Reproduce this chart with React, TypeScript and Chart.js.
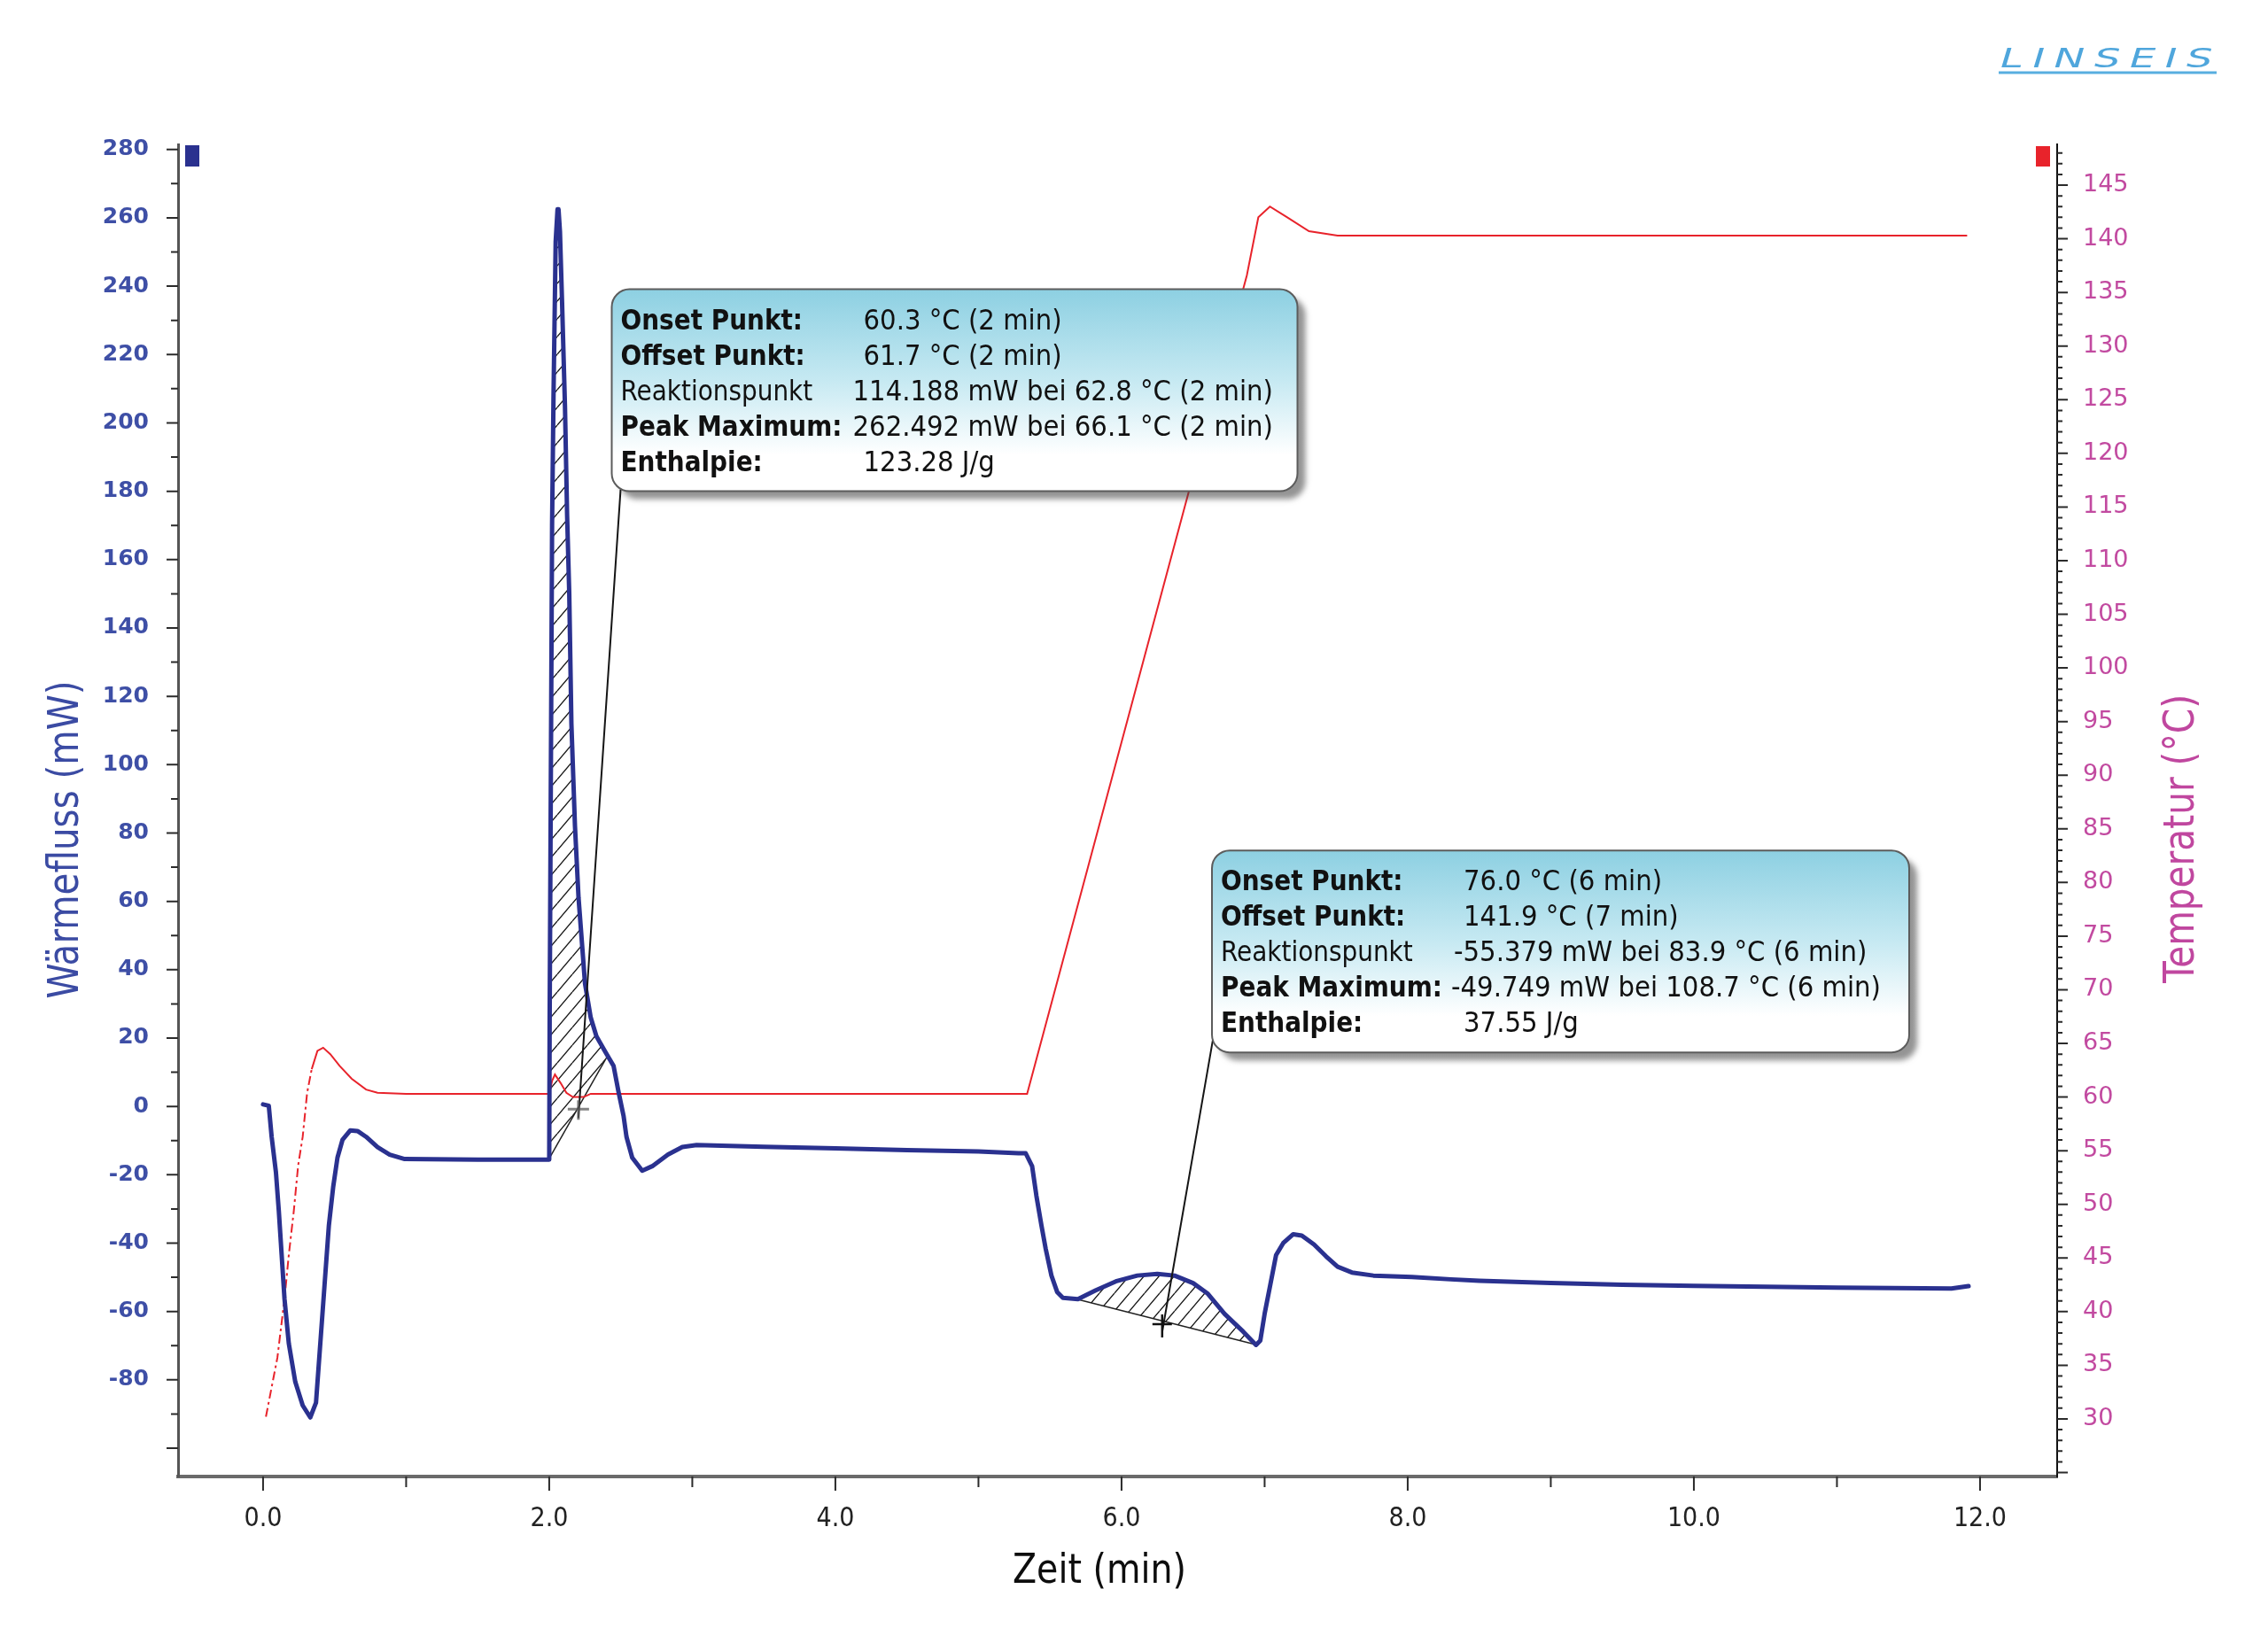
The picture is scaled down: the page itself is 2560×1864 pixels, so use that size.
import React, { useEffect, useRef } from 'react';
import { Chart, registerables } from 'chart.js';

Chart.register(...registerables);

const CANVAS_W = 2560;
const CANVAS_H = 1864;

// ---------------- data ----------------
// Heat flow (mW) over time (min)
const flowTime = [0.0, 0.04, 0.06, 0.09, 0.11, 0.13, 0.15, 0.18, 0.225, 0.277, 0.33, 0.37, 0.40, 0.43, 0.46, 0.49, 0.52, 0.555, 0.61, 0.66, 0.72, 0.80, 0.885, 0.99, 1.5, 2.0, 2.003, 2.02, 2.03, 2.045, 2.058, 2.065, 2.075, 2.09, 2.11, 2.125, 2.14, 2.155, 2.18, 2.205, 2.25, 2.29, 2.33, 2.39, 2.45, 2.485, 2.52, 2.54, 2.58, 2.65, 2.72, 2.83, 2.93, 3.03, 3.5, 4.0, 4.5, 5.0, 5.28, 5.33, 5.375, 5.405, 5.44, 5.47, 5.51, 5.55, 5.59, 5.695, 5.82, 5.96, 6.11, 6.25, 6.37, 6.5, 6.6, 6.72, 6.85, 6.94, 6.97, 7.0, 7.04, 7.08, 7.13, 7.2, 7.26, 7.345, 7.43, 7.51, 7.61, 7.76, 8.03, 8.3, 8.5, 9.0, 9.5, 10.0, 11.0, 11.8, 11.92];
const flowValue = [0.6, 0.2, -8.9, -19.3, -30.5, -43.5, -56.4, -69.4, -80.6, -87.5, -91, -86.7, -69.4, -52.1, -34.8, -23.6, -15, -9.8, -7, -7.2, -8.9, -11.9, -14.1, -15.4, -15.6, -15.6, 25, 170, 208, 253, 262.5, 262.5, 256, 235, 205, 173, 150, 112, 82, 61, 36, 26, 20.5, 16.1, 11.8, 4.1, -2.9, -8.9, -15, -18.8, -17.5, -14.1, -11.9, -11.3, -11.8, -12.3, -12.8, -13.2, -13.7, -13.7, -17.5, -26.2, -34.8, -41.7, -49.5, -54.3, -56, -56.4, -53.8, -51.2, -49.5, -49.0, -49.5, -51.7, -54.7, -60.7, -65.9, -69.8, -68.5, -60.7, -52.1, -43.5, -40, -37.4, -37.8, -40.4, -43.9, -46.9, -48.6, -49.5, -49.9, -50.6, -51, -51.7, -52.2, -52.5, -53.0, -53.3, -52.6];

// Temperature (°C) over time (min)
const tempTime = [0.02, 0.10, 0.15, 0.18, 0.215, 0.245, 0.277, 0.308, 0.34, 0.38, 0.42, 0.47, 0.535, 0.62, 0.72, 0.80, 1.0, 2.0, 2.02, 2.04, 2.08, 2.12, 2.165, 2.24, 2.29, 5.34, 6.876, 6.956, 7.037, 7.158, 7.31, 7.51, 11.91];
const tempValue = [30.2, 35.7, 41.2, 45.3, 49.4, 53.6, 56.3, 60.4, 62.6, 64.3, 64.6, 64.0, 62.9, 61.7, 60.7, 60.4, 60.3, 60.3, 61.5, 62.1, 61.3, 60.4, 60.0, 60.0, 60.3, 60.3, 136.6, 142.0, 143.0, 142.0, 140.7, 140.3, 140.3];
const tempDashedUntil = 0.36; // first part of the temperature trace is dash-dotted

// Tick labels
const xTickValues = [0, 2, 4, 6, 8, 10, 12];
const flowTickValues = [-80, -60, -40, -20, 0, 20, 40, 60, 80, 100, 120, 140, 160, 180, 200, 220, 240, 260, 280];
const tempTickValues = [30, 35, 40, 45, 50, 55, 60, 65, 70, 75, 80, 85, 90, 95, 100, 105, 110, 115, 120, 125, 130, 135, 140, 145];

// Axis ranges
const X_MIN = -0.594, X_MAX = 12.539;
const FLOW_MIN = -108.3, FLOW_MAX = 281.5;
const TEMP_MIN = 24.63, TEMP_MAX = 148.8;

// Peak integration areas (time range on the curve, baseline end points)
const peak1Range = [2.0, 2.41];
const peak1Baseline = [{ x: 2.003, y: -15 }, { x: 2.41, y: 15 }];
const peak2Range = [5.695, 6.94];
const peak2Baseline = [{ x: 5.705, y: -56.6 }, { x: 6.93, y: -69.6 }];

// Annotation boxes
const box1Anchor = { x: 2.437, y: 239.1 };
const box1Target = { x: 2.204, y: -3.4 };
const box1Marker = { x: 2.204, y: -0.8 };
const box1Lines = [
  { label: 'Onset Punkt:', value: '60.3 °C (2 min)', bold: true, col: 284 },
  { label: 'Offset Punkt:', value: '61.7 °C (2 min)', bold: true, col: 284 },
  { label: 'Reaktionspunkt', value: '114.188 mW bei 62.8 °C (2 min)', bold: false, col: 272 },
  { label: 'Peak Maximum:', value: '262.492 mW bei 66.1 °C (2 min)', bold: true, col: 272 },
  { label: 'Enthalpie:', value: '123.28 J/g', bold: true, col: 284 },
];
const box2Anchor = { x: 6.632, y: 74.9 };
const box2Target = { x: 6.285, y: -65.8 };
const box2Marker = { x: 6.284, y: -63.7 };
const box2Lines = [
  { label: 'Onset Punkt:', value: '76.0 °C (6 min)', bold: true, col: 284 },
  { label: 'Offset Punkt:', value: '141.9 °C (7 min)', bold: true, col: 284 },
  { label: 'Reaktionspunkt', value: '-55.379 mW bei 83.9 °C (6 min)', bold: false, col: 273 },
  { label: 'Peak Maximum:', value: '-49.749 mW bei 108.7 °C (6 min)', bold: true, col: 270 },
  { label: 'Enthalpie:', value: '37.55 J/g', bold: true, col: 284 },
];

const FLOW_TITLE = 'Wärmefluss (mW)';
const TEMP_TITLE = 'Temperatur (°C)';
const TIME_TITLE = 'Zeit (min)';
const LOGO = 'LINSEIS';

// ---------------- colours / styles ----------------
const BLUE = '#2A318F';
const RED = '#E8232B';
const FLOW_LABEL = '#3E4FA6';
const TEMP_LABEL = '#C24AA0';
const BOX_FONT = "'DejaVu Sans Condensed', 'DejaVu Sans', sans-serif";

function makeHatch(): CanvasPattern | string {
  const c = document.createElement('canvas');
  const w = 17, h = 20;
  c.width = w; c.height = h;
  const g = c.getContext('2d');
  if (!g) return 'rgba(0,0,0,0.3)';
  g.strokeStyle = '#1a1a1a';
  g.lineWidth = 1.4;
  g.beginPath();
  g.moveTo(0, h); g.lineTo(w, 0);
  g.moveTo(-w, h); g.lineTo(0, 0);
  g.moveTo(w, h); g.lineTo(2 * w, 0);
  g.stroke();
  return g.createPattern(c, 'repeat') || 'rgba(0,0,0,0.3)';
}

function drawSqueezed(ctx: CanvasRenderingContext2D, text: string, cx: number, cy: number, font: string, color: string, targetLen: number, rot: number) {
  ctx.save();
  ctx.font = font;
  ctx.fillStyle = color;
  ctx.textAlign = 'center';
  ctx.textBaseline = 'middle';
  const w = ctx.measureText(text).width;
  ctx.translate(cx, cy);
  ctx.rotate(rot);
  ctx.scale(targetLen / w, 1);
  ctx.fillText(text, 0, 0);
  ctx.restore();
}

function drawBox(ctx: CanvasRenderingContext2D, x: number, y: number, w: number, h: number, lines: any[], fs: number) {
  ctx.save();
  ctx.shadowColor = 'rgba(60,60,60,0.55)';
  ctx.shadowBlur = 6;
  ctx.shadowOffsetX = 9;
  ctx.shadowOffsetY = 9;
  const g = ctx.createLinearGradient(0, y, 0, y + h);
  g.addColorStop(0, '#8DD0E2');
  g.addColorStop(0.45, '#C6E9F2');
  g.addColorStop(0.82, '#FFFFFF');
  g.addColorStop(1, '#FFFFFF');
  ctx.fillStyle = g;
  ctx.beginPath();
  ctx.roundRect(x, y, w, h, 20);
  ctx.fill();
  ctx.restore();
  ctx.save();
  ctx.strokeStyle = '#5c5c5c';
  ctx.lineWidth = 2;
  ctx.beginPath();
  ctx.roundRect(x, y, w, h, 20);
  ctx.stroke();
  ctx.fillStyle = '#111';
  ctx.textBaseline = 'alphabetic';
  ctx.textAlign = 'left';
  lines.forEach((ln, i) => {
    const by = y + 45 + i * 40;
    ctx.font = `${ln.bold ? 'bold ' : ''}${fs}px ${BOX_FONT}`;
    ctx.fillText(ln.label, x + 10, by);
    ctx.font = `${(fs + 0.8).toFixed(1)}px ${BOX_FONT}`;
    ctx.save();
    ctx.translate(x + ln.col, by);
    ctx.scale(1.02, 1);
    ctx.fillText(ln.value, 0, 0);
    ctx.restore();
  });
  ctx.restore();
}

const decorPlugin = {
  id: 'dscDecor',
  afterDraw(chart: any) {
    const { ctx, chartArea: a, scales } = chart;
    const sx = scales.x, sy = scales.y, st = scales.y1;
    ctx.save();

    // tick marks
    ctx.strokeStyle = '#2b2b2b';
    ctx.lineWidth = 2;
    ctx.beginPath();
    for (let v = -100; v <= 280; v += 10) {
      const y = sy.getPixelForValue(v);
      const len = v % 20 === 0 ? 12 : 7;
      ctx.moveTo(a.left - len - 1, y); ctx.lineTo(a.left, y);
    }
    for (let v = 25; v <= 148; v++) {
      const y = st.getPixelForValue(v);
      const len = v % 5 === 0 ? 12 : 6;
      ctx.moveTo(a.right, y); ctx.lineTo(a.right + len, y);
    }
    for (let v = 0; v <= 12; v++) {
      const x = sx.getPixelForValue(v);
      const len = v % 2 === 0 ? 16 : 12;
      ctx.moveTo(x, a.bottom); ctx.lineTo(x, a.bottom + len);
    }
    ctx.stroke();

    // series markers
    ctx.fillStyle = BLUE;
    ctx.fillRect(a.left + 8, a.top + 1, 16, 24);
    ctx.fillStyle = RED;
    ctx.fillRect(a.right - 24, a.top + 2, 16, 23);

    // box geometry
    const b1x = sx.getPixelForValue(box1Anchor.x), b1y = sy.getPixelForValue(box1Anchor.y);
    const b2x = sx.getPixelForValue(box2Anchor.x), b2y = sy.getPixelForValue(box2Anchor.y);
    const bw1 = 774, bw2 = 787, bh = 228;

    // leader lines
    ctx.strokeStyle = '#151515';
    ctx.lineWidth = 2;
    ctx.beginPath();
    ctx.moveTo(b1x + 10, b1y + bh - 2);
    ctx.lineTo(sx.getPixelForValue(box1Target.x), sy.getPixelForValue(box1Target.y));
    ctx.moveTo(b2x + 1, b2y + bh - 14);
    ctx.lineTo(sx.getPixelForValue(box2Target.x), sy.getPixelForValue(box2Target.y));
    ctx.stroke();

    // reaction point markers
    const m1x = sx.getPixelForValue(box1Marker.x), m1y = sy.getPixelForValue(box1Marker.y);
    ctx.strokeStyle = 'rgba(90,90,90,0.75)';
    ctx.lineWidth = 3;
    ctx.beginPath();
    ctx.moveTo(m1x - 12, m1y); ctx.lineTo(m1x + 12, m1y);
    ctx.moveTo(m1x, m1y - 10); ctx.lineTo(m1x, m1y + 12);
    ctx.stroke();
    const m2x = sx.getPixelForValue(box2Marker.x), m2y = sy.getPixelForValue(box2Marker.y);
    ctx.strokeStyle = '#111';
    ctx.lineWidth = 2.5;
    ctx.beginPath();
    ctx.moveTo(m2x - 11, m2y); ctx.lineTo(m2x + 11, m2y);
    ctx.moveTo(m2x, m2y - 11); ctx.lineTo(m2x, m2y + 15);
    ctx.stroke();

    // annotation boxes; font fitted so that the bold label has the reference width
    ctx.font = `bold 30px ${BOX_FONT}`;
    const fs = Math.min(34, 30 * 250 / ctx.measureText('Peak Maximum:').width);
    drawBox(ctx, b1x, b1y, bw1, bh, box1Lines, fs);
    drawBox(ctx, b2x, b2y, bw2, bh, box2Lines, fs);

    // axis titles
    drawSqueezed(ctx, FLOW_TITLE, 76, 948, "48px 'DejaVu Sans Condensed', 'DejaVu Sans', sans-serif", '#3B4BA3', 359, -Math.PI / 2);
    drawSqueezed(ctx, TEMP_TITLE, 2464, 947, "48px 'DejaVu Sans Condensed', 'DejaVu Sans', sans-serif", '#C0479F', 326, -Math.PI / 2);
    drawSqueezed(ctx, TIME_TITLE, 1241, 1775, "46px 'DejaVu Sans Condensed', 'DejaVu Sans', sans-serif", '#0d0d0d', 196, 0);

    // logo
    ctx.save();
    ctx.font = "italic 31px 'DejaVu Sans', sans-serif";
    (ctx as any).letterSpacing = '7px';
    ctx.fillStyle = '#4FA6DC';
    ctx.textBaseline = 'alphabetic';
    ctx.textAlign = 'left';
    const lw = ctx.measureText(LOGO).width;
    ctx.translate(2258, 76);
    ctx.scale(250 / lw, 1);
    ctx.fillText(LOGO, 0, 0);
    ctx.restore();
    ctx.strokeStyle = '#58AEE0';
    ctx.lineWidth = 3;
    ctx.beginPath();
    ctx.moveTo(2256, 82); ctx.lineTo(2502, 82);
    ctx.stroke();

    ctx.restore();
  },
};

export default function App() {
  const ref = useRef<HTMLCanvasElement>(null);
  useEffect(() => {
    const canvas = ref.current;
    if (!canvas) return;
    const hatch = makeHatch();
    const flowPoints = flowTime.map((t, i) => ({ x: t, y: flowValue[i] }));
    const tempPoints = tempTime.map((t, i) => ({ x: t, y: tempValue[i] }));
    const hatch1 = flowPoints.filter((p) => p.x >= peak1Range[0] && p.x <= peak1Range[1]);
    const hatch2 = flowPoints.filter((p) => p.x >= peak2Range[0] && p.x <= peak2Range[1]);

    const chart = new Chart(canvas, {
      type: 'line',
      data: {
        datasets: [
          {
            label: 'Wärmefluss', data: flowPoints, yAxisID: 'y', borderColor: BLUE, borderWidth: 5,
            pointRadius: 0, fill: false, borderJoinStyle: 'round', borderCapStyle: 'round', tension: 0,
          },
          {
            label: 'Temperatur', data: tempPoints, yAxisID: 'y1', borderColor: RED, borderWidth: 2,
            pointRadius: 0, fill: false, tension: 0,
            segment: { borderDash: (c: any) => (c.p1.parsed.x <= tempDashedUntil ? [10, 4, 3, 4] : undefined) },
          },
          {
            label: 'peak1', data: hatch1, yAxisID: 'y', borderColor: 'rgba(0,0,0,0)', borderWidth: 1,
            pointRadius: 0, fill: '+1', backgroundColor: hatch as any,
          },
          {
            label: 'base1', data: peak1Baseline, yAxisID: 'y', borderColor: '#222', borderWidth: 1.5,
            pointRadius: 0, fill: false,
          },
          {
            label: 'peak2', data: hatch2, yAxisID: 'y', borderColor: 'rgba(0,0,0,0)', borderWidth: 1,
            pointRadius: 0, fill: '+1', backgroundColor: hatch as any,
          },
          {
            label: 'base2', data: peak2Baseline, yAxisID: 'y', borderColor: '#222', borderWidth: 1.5,
            pointRadius: 0, fill: false,
          },
        ],
      },
      options: {
        responsive: false,
        devicePixelRatio: 1,
        animation: false,
        events: [],
        layout: { padding: { top: 163, left: 0, right: 0, bottom: 0 } },
        plugins: { legend: { display: false }, tooltip: { enabled: false }, title: { display: false } },
        scales: {
          x: {
            type: 'linear', min: X_MIN, max: X_MAX,
            afterFit: (s: any) => { s.height = CANVAS_H - 1667; },
            afterBuildTicks: (s: any) => { s.ticks = xTickValues.map((v) => ({ value: v })); },
            grid: { display: false, drawTicks: false },
            border: { display: true, color: '#6a6a6a', width: 4 },
            ticks: {
              autoSkip: false, maxRotation: 0, padding: 30, color: '#222',
              font: { family: "'DejaVu Sans Condensed', 'DejaVu Sans', sans-serif", size: 30 },
              callback: (v: any) => Number(v).toFixed(1),
            },
          },
          y: {
            type: 'linear', position: 'left', min: FLOW_MIN, max: FLOW_MAX,
            afterFit: (s: any) => { s.width = 201; },
            afterBuildTicks: (s: any) => { s.ticks = flowTickValues.map((v) => ({ value: v })); },
            grid: { display: false, drawTicks: false },
            border: { display: true, color: '#555', width: 3 },
            ticks: {
              autoSkip: false, padding: 33, color: FLOW_LABEL,
              font: { family: "'DejaVu Sans', sans-serif", size: 25, weight: 'bold' },
            },
          },
          y1: {
            type: 'linear', position: 'right', min: TEMP_MIN, max: TEMP_MAX,
            afterFit: (s: any) => { s.width = CANVAS_W - 2322; },
            afterBuildTicks: (s: any) => { s.ticks = tempTickValues.map((v) => ({ value: v })); },
            grid: { display: false, drawTicks: false },
            border: { display: true, color: '#111', width: 2 },
            ticks: {
              autoSkip: false, padding: 29, color: TEMP_LABEL,
              font: { family: "'DejaVu Sans', sans-serif", size: 27 },
            },
          },
        },
      } as any,
      plugins: [decorPlugin],
    });
    return () => chart.destroy();
  }, []);

  return (
    <div style={{ position: 'absolute', left: 0, top: 0, width: CANVAS_W, height: CANVAS_H, background: '#fff' }}>
      <canvas ref={ref} width={CANVAS_W} height={CANVAS_H} style={{ display: 'block', width: CANVAS_W, height: CANVAS_H }} />
    </div>
  );
}
